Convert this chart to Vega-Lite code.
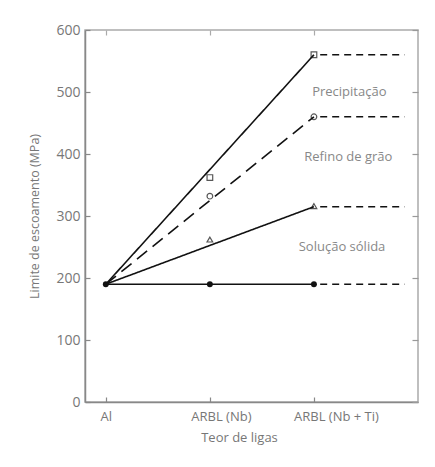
{
  "$schema": "https://vega.github.io/schema/vega-lite/v6.json",
  "autosize": "none",
  "width": 333,
  "height": 372,
  "padding": {"left": 85, "top": 30, "right": 17, "bottom": 65},
  "background": "white",
  "config": {
    "view": {"stroke": "#aaa", "strokeWidth": 1.5},
    "axis": {"labelFont": "Open Sans", "titleFont": "Open Sans", "labelColor": "#777", "titleColor": "#777", "titleFontWeight": "normal", "domainColor": "#888", "domainWidth": 1.5, "tickColor": "#888", "tickWidth": 1.2, "grid": false}
  },
  "datasets": {
    "linhas": [
      {"serie": "Precipitação", "tipo": "cheia", "x": 0, "y": 190},
      {"serie": "Precipitação", "tipo": "cheia", "x": 2, "y": 560},
      {"serie": "Refino", "tipo": "longa", "x": 0, "y": 190},
      {"serie": "Refino", "tipo": "longa", "x": 2, "y": 460},
      {"serie": "Solução", "tipo": "cheia", "x": 0, "y": 190},
      {"serie": "Solução", "tipo": "cheia", "x": 2, "y": 315},
      {"serie": "Base", "tipo": "cheia", "x": 0, "y": 190},
      {"serie": "Base", "tipo": "cheia", "x": 2, "y": 190},
      {"serie": "Precipitação ext", "tipo": "curta", "x": 2.06, "y": 560},
      {"serie": "Precipitação ext", "tipo": "curta", "x": 2.87, "y": 560},
      {"serie": "Refino ext", "tipo": "curta", "x": 2.06, "y": 460},
      {"serie": "Refino ext", "tipo": "curta", "x": 2.87, "y": 460},
      {"serie": "Solução ext", "tipo": "curta", "x": 2.06, "y": 315},
      {"serie": "Solução ext", "tipo": "curta", "x": 2.87, "y": 315},
      {"serie": "Base ext", "tipo": "curta", "x": 2.06, "y": 190},
      {"serie": "Base ext", "tipo": "curta", "x": 2.87, "y": 190}
    ],
    "pontos": [
      {"marcador": "quadrado", "x": 1, "y": 362},
      {"marcador": "quadrado", "x": 2, "y": 560},
      {"marcador": "circulo", "x": 1, "y": 332},
      {"marcador": "circulo", "x": 2, "y": 460},
      {"marcador": "triangulo", "x": 1, "y": 262},
      {"marcador": "triangulo", "x": 2, "y": 316}
    ],
    "cheios": [
      {"x": 0, "y": 190},
      {"x": 1, "y": 190},
      {"x": 2, "y": 190}
    ],
    "rotulos": [
      {"texto": "Precipitação", "x": 2.34, "y": 500},
      {"texto": "Refino de grão", "x": 2.33, "y": 395},
      {"texto": "Solução sólida", "x": 2.27, "y": 250}
    ]
  },
  "layer": [
    {
      "data": {"name": "linhas"},
      "mark": {"type": "line", "color": "#111", "strokeWidth": 1.6},
      "encoding": {
        "x": {"field": "x", "type": "quantitative", "scale": {"domain": [-0.2, 3.0], "nice": false, "zero": false},
          "axis": {"orient": "bottom", "values": [0, 1, 2], "ticks": false, "labelExpr": "datum.value == 0 ? 'Al' : datum.value == 1 ? 'ARBL (Nb)' : 'ARBL (Nb + Ti)'", "labelFontSize": 13, "labelPadding": 8, "labelOffset": {"expr": "datum.value == 1 ? 11 : datum.value == 2 ? 22 : 0"}, "title": "Teor de ligas", "titleFontSize": 13, "titlePadding": 8, "titleX": 154}},
        "y": {"field": "y", "type": "quantitative", "scale": {"domain": [0, 600], "nice": false},
          "axis": {"orient": "left", "values": [0, 100, 200, 300, 400, 500, 600], "ticks": false, "labelFontSize": 14, "labelPadding": 5, "title": "Limite de escoamento (MPa)", "titleFontSize": 12.5, "titlePadding": 14}},
        "detail": {"field": "serie"},
        "strokeDash": {"field": "tipo", "type": "nominal", "scale": {"domain": ["cheia", "longa", "curta"], "range": [[1, 0], [13, 7], [7, 5]]}, "legend": null}
      }
    },
    {
      "data": {"name": "pontos"},
      "mark": {"type": "point", "filled": false, "color": "#111", "strokeWidth": 1.2, "size": 32},
      "encoding": {
        "x": {"field": "x", "type": "quantitative", "axis": {"orient": "top", "offset": -372, "values": [0, 1, 2], "labels": false, "domain": false, "tickSize": 5, "title": null}},
        "y": {"field": "y", "type": "quantitative", "axis": {"orient": "right", "offset": -333, "values": [0, 100, 200, 300, 400, 500, 600], "labels": false, "domain": false, "tickSize": 5, "title": null}},
        "shape": {"field": "marcador", "type": "nominal", "scale": {"domain": ["quadrado", "circulo", "triangulo"], "range": ["square", "circle", "triangle-up"]}, "legend": null}
      }
    },
    {
      "data": {"name": "cheios"},
      "mark": {"type": "circle", "color": "#111", "size": 35, "opacity": 1},
      "encoding": {
        "x": {"field": "x", "type": "quantitative", "axis": {"orient": "bottom", "offset": -372, "values": [0, 1, 2], "labels": false, "domain": false, "tickSize": 5, "tickColor": "#aaa", "title": null}},
        "y": {"field": "y", "type": "quantitative", "axis": {"orient": "left", "offset": -333, "values": [0, 100, 200, 300, 400, 500, 600], "labels": false, "domain": false, "tickSize": 6, "tickColor": "#999", "title": null}}
      }
    },
    {
      "data": {"name": "rotulos"},
      "mark": {"type": "text", "font": "Open Sans", "fontSize": 13, "color": "#888"},
      "encoding": {
        "x": {"field": "x", "type": "quantitative", "axis": null},
        "y": {"field": "y", "type": "quantitative", "axis": null},
        "text": {"field": "texto"}
      }
    }
  ],
  "resolve": {"axis": {"x": "independent", "y": "independent"}}
}
